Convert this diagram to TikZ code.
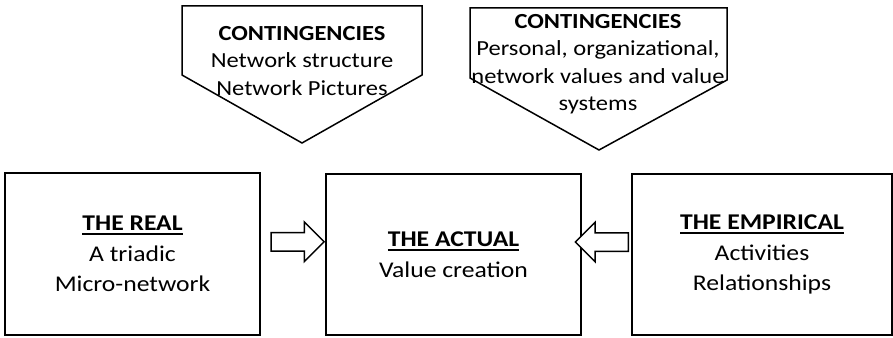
\documentclass[tikz,border=0pt]{standalone}
\usepackage{fontspec}
\setmainfont{Carlito}[FakeStretch=1.14]
\usetikzlibrary{shapes.arrows,calc}
\newcommand\strek[1]{\setbox0\hbox{#1}\rlap{\rule[-4.5pt]{\wd0}{2.2pt}}\box0}

\begin{document}
\begin{tikzpicture}[x=1pt,y=-1pt]
	\tikzset{kasse/.style={draw=black, line width=1.5pt, align=center, inner sep=0pt, font=\fontsize{22.5}{30.5}\selectfont},
		kontext/.style={align=center, inner sep=0pt, font=\fontsize{21.5}{27.5}\selectfont},
		pil/.style={single arrow, draw=black, line width=1.5pt, fill=white, inner sep=8.5pt, single arrow head extend=10.5pt, single arrow tip angle=90, minimum height=53pt, minimum width=0pt}}
	\useasboundingbox (0,0) rectangle (893,337);

	% contingencies
	\draw[line width=1.5pt, line join=miter] (182,6) -- (422,6) -- (422,75) -- (302,143) -- (182,75) -- cycle;
	\draw[line width=1.5pt, line join=miter] (470,8) -- (727,8) -- (727,80) -- (599,150) -- (470,78) -- cycle;
	\node[kontext] at (302,61) (k1) {\textbf{CONTINGENCIES}\\Network structure\\Network Pictures};
	\node[kontext] at (598,64) (k2) {\textbf{CONTINGENCIES}\\Personal, organizational,\\network values and value\\systems};

	% boxes
	\node[kasse, minimum width=255pt, minimum height=162pt] at (132.5,254) (real) {\strek{\textbf{THE REAL}}\\A triadic\\Micro-network};
	\node[kasse, minimum width=255pt, minimum height=161pt] at (453.5,254.5) (actual) {\strek{\textbf{THE ACTUAL}}\\Value creation};
	\node[kasse, minimum width=260pt, minimum height=161pt] at (762,254.5) (emp) {\strek{\textbf{THE EMPIRICAL}}\\Activities\\Relationships};

	% arrows
	\node[pil] at ($(real.east)!0.5!(actual.west)+(0,-12.5)$) (p1) {};
	\node[pil, shape border rotate=180] at ($(actual.east)!0.5!(emp.west)+(0,-12.5)$) (p2) {};
\end{tikzpicture}
\end{document}
